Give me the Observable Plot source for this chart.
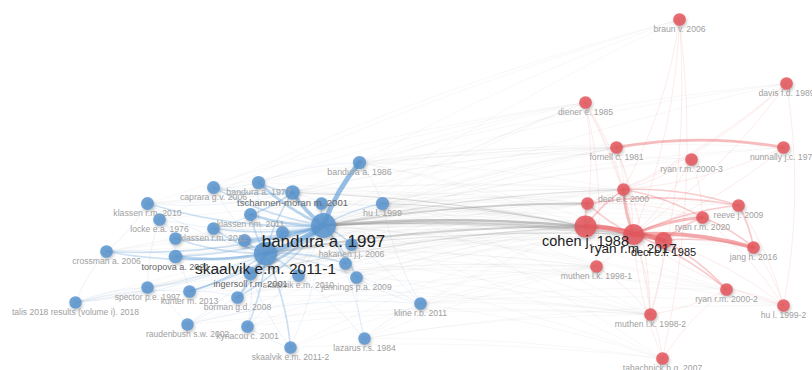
<!DOCTYPE html>
<html><head><meta charset="utf-8">
<script src="https://cdn.jsdelivr.net/npm/d3@7"></script>
<script src="https://cdn.jsdelivr.net/npm/@observablehq/plot@0.6"></script>
<style>
body{margin:0;background:#fff;}
#chart svg{display:block;}
.net g[aria-label="dot"] circle{filter:drop-shadow(1px 2px 1.5px rgba(0,0,0,0.25));}
</style></head><body><div id="chart"></div>
<script>
// ---- Blue cluster (layout coordinates, weights) ----
const blueLabels = ["bandura a. 1997","skaalvik e.m. 2011-1","bandura a. 1986","bandura a. 1977","caprara g.v. 2006","tschannen-moran m. 2001","hu l. 1999","klassen r.m. 2010","locke e.a. 1976","klassen r.m. 2011","klassen r.m. 2012","klusmann u. 2008","zee m. 2016","skaalvik e.m. 2007","tschannen-moran m. 2007","hakanen j.j. 2006","maslach c. 2001","jennings p.a. 2009","skaalvik e.m. 2010","ingersoll r.m. 2001","toropova a. 2021","crossman a. 2006","spector p.e. 1997","kunter m. 2013","talis 2018 results (volume i). 2018","raudenbush s.w. 2002","kyriacou c. 2001","borman g.d. 2008","skaalvik e.m. 2011-2","lazarus r.s. 1984","kline r.b. 2011"];
const blueX = [323,265,359,258,213,292,382,147,159,250,213,175,244,282,321,351,345,356,298,250,175,106,147,189,75,187,247,237,290,364,420];
const blueY = [225,253,162,182,187,192,203,203,219,214,228,238,240,232,203,244,263,277,275,273,256,251,287,291,302,324,326,297,347,338,303];
const blueWeight = [100,87,28,28,27,34,28,27,26,27,26,26,27,27,26,26,26,26,26,30,30,26,25,26,25,25,26,26,25,25,26];
const blueHidden = [11,12,13,14,16];

// ---- Red cluster ----
const redLabels = ["cohen j. 1988","ryan r.m. 2017","deci e.l. 1985","braun v. 2006","davis f.d. 1989","diener e. 1985","fornell c. 1981","nunnally j.c. 1978","ryan r.m. 2000-3","deci e.l. 2000","deci e.l. 2008","reeve j. 2009","ryan r.m. 2020","jang h. 2016","muthen l.k. 1998-1","ryan r.m. 2000-2","hu l. 1999-2","muthen l.k. 1998-2","tabachnick b.g. 2007"];
const redX = [585,633,663,679,786,585,616,783,691,623,587,738,702,753,596,726,783,650,662];
const redY = [226,234,240,19,83,102,147,147,159,189,203,205,217,247,266,289,305,314,358];
const redWeight = [78,70,47,26,26,26,26,26,26,26,26,26,26,26,26,26,26,26,26];
const redHidden = [10];

// ---- Links [source, target, strength] ----
const blueLinks = [[0,1,5],[0,2,5],[0,3,3],[0,4,2],[0,5,4],[0,6,2],[0,7,2],[0,8,1],[0,9,3],[0,10,2],[0,11,2],[0,12,3],[0,13,3],[0,14,2],[0,15,2],[0,16,2],[0,17,2],[0,18,1],[0,19,3],[0,20,2],[0,21,2],[0,22,1],[0,23,2],[0,24,1],[0,25,1],[0,26,1],[0,27,2],[0,28,1],[0,29,1],[0,30,1],
[1,3,1],[1,4,1],[1,5,2],[1,7,1],[1,9,2],[1,10,2],[1,11,2],[1,12,2],[1,13,2],[1,16,2],[1,17,1],[1,18,2],[1,19,3],[1,20,3],[1,21,2],[1,22,1],[1,23,2],[1,24,1],[1,25,1],[1,26,2],[1,27,2],[1,28,2],[1,29,1],[1,30,1],[1,15,1],
[5,3,2],[5,4,2],[5,9,2],[5,14,1],[5,7,1],[5,10,1],[3,4,1],[3,2,1],[2,6,1],[2,14,1],[7,8,1],[7,11,1],[8,11,1],[7,21,1],[21,20,1],[20,11,1],[19,27,2],[19,26,1],[19,23,1],[22,8,1],[22,25,1],[29,17,1],[29,30,1],[30,6,1],[30,17,1],[28,26,1],[28,19,1],[24,21,1],[24,22,1],[24,23,1],[25,30,1],[17,16,1],[15,16,1],[12,10,1],[9,10,1],[13,19,1],[23,27,1],[20,23,1]];
const redLinks = [[0,1,5],[1,2,5],[1,13,4],[6,7,3],[0,9,2],[0,10,2],[1,9,3],[1,10,2],[1,12,3],[1,11,2],[9,11,2],[10,11,2],[10,12,1],[2,13,2],[2,12,2],[2,15,2],[1,15,2],[1,14,1],[1,17,1],[0,14,1],[0,2,3],[9,12,2],[12,13,2],[11,13,2],[8,1,1],[8,9,1],[8,12,1],[5,9,1],[5,1,1],[5,0,1],[5,14,1],[5,17,1],[3,9,1],[3,1,1],[3,17,1],[3,18,1],[4,9,1],[4,1,1],[4,16,1],[4,10,1],[7,9,1],[7,1,1],[6,9,1],[6,1,1],[6,17,1],[15,16,1],[13,16,1],[17,18,1],[14,17,1],[18,1,1],[18,15,1],[16,1,1],[15,17,1],[12,16,1],[11,16,1],[2,16,1],[2,17,1]];
const crossLinks = [[0,0,4],[0,1,3],[1,0,3],[1,1,2],[0,9,2],[0,10,3],[0,2,2],[5,0,2],[5,1,1],[19,0,2],[0,14,1],[0,5,1],[0,3,1],[0,6,1],[0,7,1],[0,12,1],[0,13,1],[0,17,1],[0,18,1],[0,15,1],[1,9,1],[1,10,1],[1,14,1],[1,17,1],[1,18,1],[1,2,1],[2,0,1],[2,1,1],[2,9,1],[3,0,1],[4,0,1],[6,0,2],[6,1,1],[6,14,1],[6,17,1],[6,18,1],[6,15,1],[7,0,1],[9,0,1],[12,0,1],[13,0,1],[13,1,1],[15,0,1],[16,0,1],[17,0,1],[17,1,1],[18,0,1],[20,0,1],[20,1,1],[21,0,1],[22,0,1],[23,0,1],[24,0,1],[25,0,1],[26,0,1],[27,0,1],[28,0,1],[29,0,1],[29,17,1],[30,0,1],[30,14,1],[30,17,1],[30,18,1],[30,15,1],[29,18,1],[28,18,1],[25,17,1],[24,1,1],[7,5,1],[8,3,1],[4,3,1],[2,3,1],[2,5,1],[3,5,1],[5,5,1],[2,4,1],[5,4,1],[0,4,1],[6,7,1],[2,7,1],[2,6,1],[5,6,1],[19,1,1],[27,1,1],[26,17,1],[22,14,1],[21,14,1],[10,0,1],[11,0,1],[14,0,1],[14,1,1],[0,8,1],[0,11,1],[6,11,1],[2,8,1],
[0,6,1],[1,6,1],[5,6,1],[6,6,1],[3,6,1],[4,6,1],[9,6,1],[19,6,1],[1,5,1],[6,5,1],[9,9,1],[5,9,1],[6,9,1],[19,9,1],[20,9,1],[21,9,1],[7,9,1],[24,9,1],[22,10,1],[23,10,1],[27,10,1],[26,14,1],[28,14,1],[29,14,1],[25,14,1],[18,14,1],[17,17,1],[27,17,1],[23,17,1],[1,12,1],[1,13,1],[5,12,1],[6,12,1],[6,13,1],[19,15,1],[30,16,1],[29,16,1],[1,16,1],[0,16,1],[24,14,1],[21,10,1],[7,10,1],[8,10,1],[11,10,1],[12,1,1]];

// ---- build ----
const B = blueLabels.map((label,i)=>({label,x:blueX[i],y:blueY[i],w:blueWeight[i],cluster:"blue",hidden:blueHidden.includes(i)}));
const R = redLabels.map((label,i)=>({label,x:redX[i],y:redY[i],w:redWeight[i],cluster:"red",hidden:redHidden.includes(i)}));
const nodes = [...B, ...R];
const edges = [
  ...crossLinks.map(([s,t,w])=>({a:B[s],b:R[t],w,kind:"cross"})),
  ...blueLinks.map(([s,t,w])=>({a:B[s],b:B[t],w,kind:"blue"})),
  ...redLinks.map(([s,t,w])=>({a:R[s],b:R[t],w,kind:"red"}))
];
const radius = w => 12.5*Math.sqrt(w/100);
const fsize = w => 8.5 + (w-25)*0.113;
const nodeColor = {blue:"#5b96d0", red:"#e5575d"};
const edgeColor = {cross:"#8a8a8a", blue:"#6aa3d8", red:"#ea6a6f"};
const labelColor = w => w>=45 ? "#222" : w>=29 ? "#666" : "#a0a0a0";
const linkOpts = kind => ({
  x1:d=>d.a.x, y1:d=>d.a.y, x2:d=>d.b.x, y2:d=>d.b.y,
  bend: kind==="cross" ? 5 : 10, headLength: 0,
  stroke: edgeColor[kind],
  strokeOpacity: d => kind==="cross" ? 0.11 + 0.13*(d.w-1) : 0.22 + 0.12*(d.w-1),
  strokeWidth: d => kind==="cross" ? 0.6 + 0.65*(d.w-1) : 0.6 + 1.1*(d.w-1)
});

const chart = Plot.plot({
  width: 812, height: 370, margin: 0,
  className: "net",
  x: {domain:[0,812], range:[0,812], axis:null},
  y: {domain:[0,370], range:[0,370], axis:null},
  r: {type:"identity"},
  style: {background:"#fff", overflow:"visible"},
  marks: [
    Plot.arrow(edges.filter(d=>d.kind==="cross"), linkOpts("cross")),
    Plot.arrow(edges.filter(d=>d.kind==="blue"), linkOpts("blue")),
    Plot.arrow(edges.filter(d=>d.kind==="red"), linkOpts("red")),
    Plot.dot(nodes, {x:"x", y:"y", r:d=>radius(d.w), fill:d=>nodeColor[d.cluster], fillOpacity:0.86}),
    Plot.text(nodes.filter(d=>!d.hidden), {
      x:"x", y:d=>d.y + radius(d.w) + 3.5, text:"label",
      fontSize:d=>fsize(d.w), fill:d=>labelColor(d.w),
      fontFamily:"Liberation Sans, Arial, sans-serif"
    })
  ]
});
document.getElementById("chart").appendChild(chart);
</script></body></html>
